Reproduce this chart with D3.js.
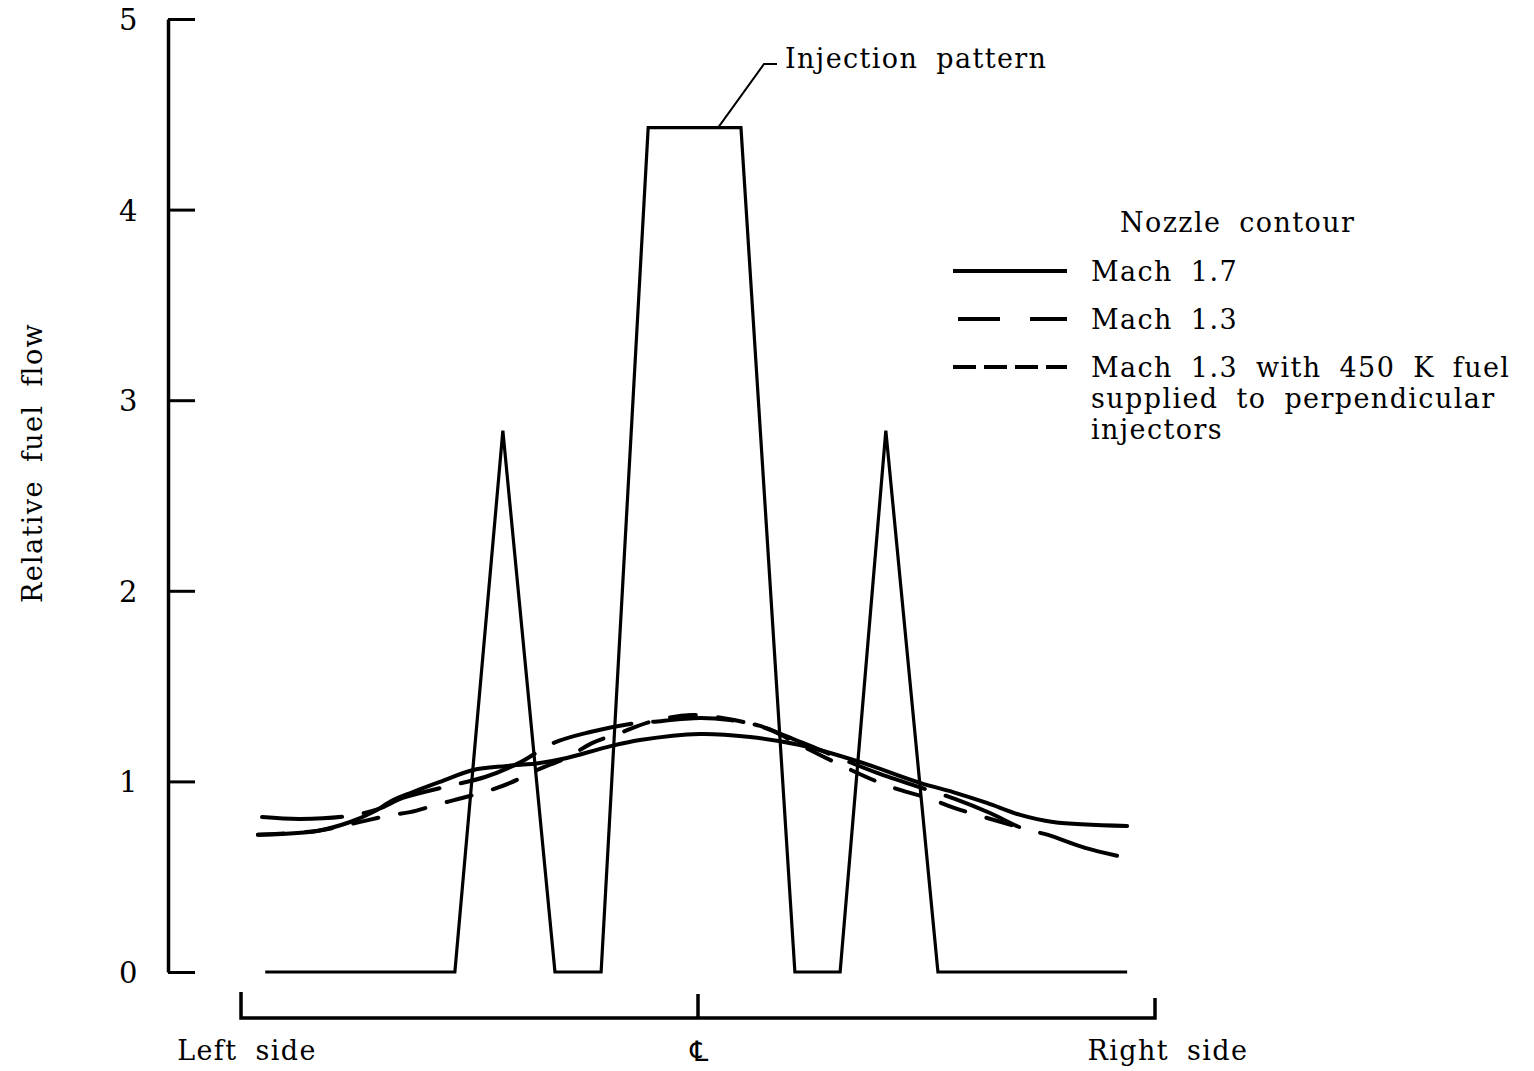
<!DOCTYPE html>
<html>
<head>
<meta charset="utf-8">
<script src="https://cdn.jsdelivr.net/npm/d3@7"></script>
<style>
  body { margin: 0; background: #fff; }
  text { font-family: "DejaVu Serif", serif; font-size: 27px; fill: #000; letter-spacing: 1.4px; word-spacing: 8px; }
</style>
</head>
<body>
<svg id="chart" width="1534" height="1071"></svg>
<script>
  // Position across the duct: -1 = left side, 0 = centerline, 1 = right side
  var injX = [-0.947, -0.532, -0.427, -0.313, -0.212, -0.109, 0.094, 0.212, 0.311, 0.411, 0.525, 0.939];
  var injY = [0, 0, 2.84, 0, 0, 4.43, 4.43, 0, 0, 2.84, 0, 0];

  var m17X = [-0.963, -0.834, -0.761, -0.711, -0.667, -0.624, -0.565, -0.492, -0.418, -0.346, -0.287, -0.199, -0.127, 0.004, 0.114, 0.223, 0.354, 0.486, 0.558, 0.632, 0.705, 0.777, 0.939];
  var m17Y = [0.72, 0.74, 0.787, 0.839, 0.902, 0.944, 0.997, 1.06, 1.081, 1.097, 1.123, 1.18, 1.217, 1.249, 1.233, 1.191, 1.102, 0.992, 0.944, 0.887, 0.824, 0.787, 0.766];

  var m13X = [-0.954, -0.871, -0.766, -0.700, -0.646, -0.554, -0.466, -0.389, -0.317, -0.236, -0.149, -0.101, 0.004, 0.070, 0.136, 0.193, 0.267, 0.398, 0.562, 0.639, 0.709, 0.766, 0.847, 0.930];
  var m13Y = [0.813, 0.803, 0.818, 0.855, 0.913, 0.971, 1.023, 1.10, 1.201, 1.259, 1.301, 1.312, 1.333, 1.322, 1.291, 1.238, 1.165, 1.039, 0.908, 0.834, 0.755, 0.719, 0.651, 0.603];

  var hotX = [-0.963, -0.834, -0.761, -0.722, -0.670, -0.630, -0.558, -0.516, -0.460, -0.411, -0.352, -0.284, -0.232, -0.171, -0.105, -0.015, 0.079, 0.158, 0.223, 0.326, 0.389, 0.442, 0.503, 0.562, 0.709];
  var hotY = [0.72, 0.74, 0.776, 0.797, 0.824, 0.839, 0.887, 0.913, 0.950, 0.992, 1.060, 1.128, 1.201, 1.254, 1.312, 1.348, 1.322, 1.270, 1.191, 1.070, 1.002, 0.955, 0.913, 0.860, 0.755];

  var yTicks = [0, 1, 2, 3, 4, 5];
  var legendLabels = ["Mach 1.7", "Mach 1.3", ["Mach 1.3 with 450 K fuel", "supplied to perpendicular", "injectors"]];

  var svg = d3.select("#chart");

  var x = d3.scaleLinear().domain([-1, 1]).range([241, 1155]);
  var y = d3.scaleLinear().domain([0, 5]).range([972, 19]);

  // y axis with inward ticks
  var yAxis = svg.append("g")
    .attr("transform", "translate(168,0)")
    .call(d3.axisRight(y).tickValues(yTicks).tickSize(27).tickSizeOuter(0).tickFormat(""));
  yAxis.select(".domain").attr("stroke-width", 3.5);
  yAxis.selectAll(".tick line").attr("stroke-width", 3);

  svg.append("g").selectAll("text")
    .data(yTicks)
    .enter().append("text")
      .attr("x", 129)
      .attr("y", function(d) {return y(d) + 11;})
      .attr("text-anchor", "middle")
      .style("font-size", "29px")
      .text(function(d) {return d;});

  svg.append("text")
    .attr("transform", "translate(42," + 463 + ") rotate(-90)")
    .attr("text-anchor", "middle")
    .text("Relative fuel flow");

  // bracket below the plot
  var bY = 1018;
  svg.append("path")
    .attr("d", "M" + x(-1) + "," + (bY - 26) + "V" + bY + "H" + x(1) + "V" + (bY - 20)
      + "M" + x(0) + "," + (bY - 24) + "V" + bY)
    .attr("fill", "none")
    .attr("stroke", "#000")
    .attr("stroke-width", 3.5);

  svg.append("text").attr("x", x(-1) + 6).attr("y", 1060).attr("text-anchor", "middle").text("Left side");
  svg.append("text").attr("x", x(0) + 2).attr("y", 1061).attr("text-anchor", "middle")
    .style("font-family", "'DejaVu Sans', 'DejaVu Serif', sans-serif").style("font-size", "28px").text("\u2104");
  svg.append("text").attr("x", x(1) + 13).attr("y", 1060).attr("text-anchor", "middle").text("Right side");

  function zipXY(xs, ys) {return xs.map(function(d, i) {return [d, ys[i]];});}

  var straight = d3.line().x(function(d) {return x(d[0]);}).y(function(d) {return y(d[1]);});
  var smooth = d3.line().curve(d3.curveCatmullRom.alpha(0.5))
    .x(function(d) {return x(d[0]);}).y(function(d) {return y(d[1]);});

  svg.append("path")
    .attr("d", straight(zipXY(injX, injY)))
    .attr("fill", "none").attr("stroke", "#000").attr("stroke-width", 3.2)
    .attr("stroke-linejoin", "miter");

  var series = [
    {pts: zipXY(m17X, m17Y), dash: null},
    {pts: zipXY(m13X, m13Y), dash: "80 22"},
    {pts: zipXY(hotX, hotY), dash: "26 22"}
  ];

  series.forEach(function(s) {
    svg.append("path")
      .attr("d", smooth(s.pts))
      .attr("fill", "none")
      .attr("stroke", "#000")
      .attr("stroke-width", 4)
      .attr("stroke-linecap", "round")
      .attr("stroke-dasharray", s.dash);
  });

  // annotation
  svg.append("path")
    .attr("d", "M" + x(0.044) + "," + y(4.43) + "L" + 764 + "," + 64 + "H" + 777)
    .attr("fill", "none").attr("stroke", "#000").attr("stroke-width", 2);
  svg.append("text").attr("x", 785).attr("y", 68).text("Injection pattern");

  // legend
  svg.append("text").attr("x", 1120).attr("y", 232).text("Nozzle contour");
  var legendDash = [null, "42 30", "23 8"];
  legendLabels.forEach(function(lab, i) {
    var ly = 271 + i * 48;
    svg.append("line")
      .attr("x1", i === 1 ? 958 : 953).attr("x2", 1067)
      .attr("y1", ly).attr("y2", ly)
      .attr("stroke", "#000").attr("stroke-width", 4)
      .attr("stroke-dasharray", legendDash[i]);
    var lines = Array.isArray(lab) ? lab : [lab];
    lines.forEach(function(t, j) {
      svg.append("text").attr("x", 1091).attr("y", ly + 10 + j * 31).text(t);
    });
  });
</script>
</body>
</html>
